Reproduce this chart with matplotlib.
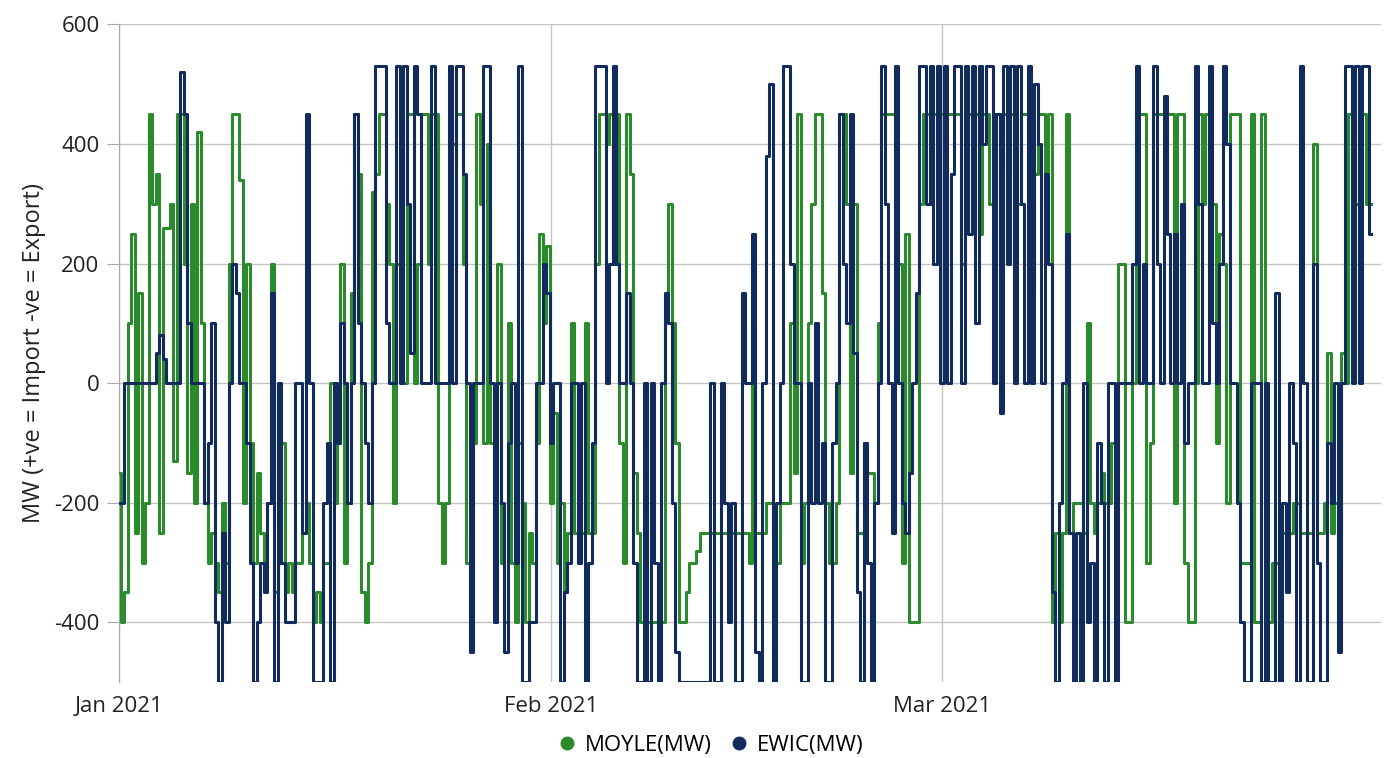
import matplotlib

matplotlib.use("Agg")
import matplotlib.pyplot as plt
import pandas as pd
from matplotlib.lines import Line2D

# interconnector flows, 6-hourly readings, Jan 1 - Mar 31 2021
START = "2021-01-01"
FREQ = "6h"
MONTH_TICKS = ["2021-01-01", "2021-02-01", "2021-03-01"]
MONTH_LABELS = ["Jan 2021", "Feb 2021", "Mar 2021"]

moyle_mw = [
    -150, -400, -350, 100,   250, -250, 150, -300,   -200, 450, 300, 350,   -250, 260, 260, 300,
    -130, 450, 450, 200,   -150, 300, -200, 420,   100, -200, -300, -250,   -300, -350, -200, -300,
    200, 450, 450, 340,   -200, 200, -100, -300,   -150, -250, -300, -200,   200, -350, -300, -100,
    -350, -300, -350, -300,   -300, -250, -200, -300,   -400, -350, -400, -300,   -300, 0, -200, -100,
    200, -300, -200, 150,   450, 350, -350, -400,   -300, 320, 350, 450,   450, 300, 200, -200,
    200, 450, 0, 450,   450, 0, 200, 450,   450, 200, 450, 450,   -200, -300, -200, 450,
    400, 450, 450, 200,   -300, -250, -100, 450,   300, -100, 400, -100,   -350, 200, -300, -400,
    100, -300, -400, -100,   -200, -400, -250, -300,   -100, 250, 100, 230,   -200, -50, -300, -200,
    -350, -250, 100, -250,   -250, -250, 100, -250,   -250, 200, 450, 450,   400, 450, 200, 450,
    -100, -300, 450, 350,   -150, -250, -400, -300,   -400, -400, -400, -400,   -400, 150, 300, 100,
    -100, -400, -400, -350,   -300, -300, -280, -250,   -250, -250, -250, -250,   -250, -250, -250, -250,
    -250, -250, -250, -250,   -250, -300, 100, -250,   -250, -250, -200, -200,   -300, -300, -200, -200,
    -200, 100, -150, 450,   -300, -200, 100, 300,   450, 450, 150, -200,   -300, -300, -200, 450,
    450, 300, -150, 300,   -250, -250, -100, -150,   -150, -200, 100, 450,   450, 450, 450, 300,
    200, -300, 250, -400,   -400, -400, 300, 450,   450, 300, 450, 400,   450, 450, 450, 450,
    450, 450, 200, 450,   450, 400, 450, 250,   450, 450, 300, 450,   450, 180, 450, 350,
    450, 450, 300, 450,   450, 300, 150, 350,   450, 450, 300, 450,   -400, -250, -400, -250,
    450, -250, -200, -200,   -200, -250, 100, -200,   -250, -200, -150, -200,   -200, -100, -150, 200,
    200, -400, -400, 0,   450, 450, 450, -300,   -100, 450, 450, 450,   450, 450, 450, -200,
    450, 450, -300, -400,   -400, 0, 450, 300,   450, 300, 300, -100,   250, 200, -200, 450,
    450, 450, -300, -300,   -300, 450, -400, -400,   450, -300, -400, -300,   -300, -300, -250, -300,
    -250, -200, -200, -250,   -250, -250, -250, 400,   -250, -250, -200, 50,   -250, -200, -300, 50,
    0, 450, 450, 300,   450, 450, 300, 300,
]

ewic_mw = [
    -200, -200, 0, 0,   0, 0, 0, 0,   0, 0, 0, 50,   80, 40, 0, 0,
    0, 0, 520, 450,   100, 0, 0, 0,   0, -200, -100, 100,   -400, -500, -250, -400,
    0, 200, 150, 0,   0, -100, -300, -500,   -400, -300, -350, -200,   150, -500, 0, -300,
    -400, -400, -400, 0,   0, -250, 450, 0,   -500, -500, -500, -200,   -100, -500, 0, -100,
    100, 0, -200, 0,   450, 100, 0, -100,   -200, 0, 530, 530,   530, 100, 0, 0,
    530, 0, 530, 300,   50, 530, 450, 0,   0, 0, 530, 0,   0, 0, 0, 530,
    0, 530, 530, 350,   0, -450, 0, 0,   0, 530, 530, 0,   -400, 0, -200, -450,
    -100, 0, -300, 530,   -500, -500, -400, -400,   0, 0, 200, 150,   -100, 0, 0, -500,
    -350, -300, 0, 0,   -300, 0, -500, -300,   -100, 530, 530, 530,   0, 200, 530, 200,
    0, 0, 150, 0,   -300, -500, -500, 0,   -500, 0, -300, -500,   0, 150, 100, -200,
    -450, -500, -500, -500,   -500, -500, -500, -500,   -500, -500, 0, -500,   -500, 0, -200, -400,
    -200, -500, -500, 150,   0, 0, 250, -450,   -500, 0, 380, 500,   -500, -200, 0, 530,
    530, 200, 0, 0,   -500, -500, 0, -200,   100, -200, -100, -500,   -500, -100, 0, 450,
    200, 100, 450, 50,   -350, -500, -100, -300,   -500, -200, 0, 530,   300, 0, -250, 530,
    0, -200, -250, -150,   0, 150, 530, 530,   300, 530, 200, 530,   0, 530, 0, 350,
    530, 530, 0, 530,   250, 530, 100, 530,   400, 530, 530, 0,   450, -50, 530, 200,
    530, 0, 530, 300,   0, 530, 0, 500,   400, 0, 350, 200,   -350, -500, -200, 0,
    250, -250, -500, -250,   -500, 0, -400, -300,   -500, -100, -200, -500,   0, 0, -500, 0,
    0, 0, 0, 200,   530, 0, 200, 0,   0, 530, 200, 0,   480, 250, 0, 250,
    0, 300, -100, 0,   0, 530, 300, 0,   0, 530, 100, 0,   200, 530, 400, 0,
    0, -200, -400, -500,   -500, 0, 0, 0,   -500, 0, -500, -500,   150, -500, -200, -350,
    0, -100, -500, 530,   0, -500, -500, 200,   -300, -500, -500, -100,   -200, 0, -450, 0,
    530, 530, 0, 530,   0, 530, 530, 250,
]

MOYLE_C, EWIC_C = "#2b8a2b", "#112b5c"
GRID_C = "#c4c4c4"
TEXT_C = "#222222"
FS = 16

plt.rcParams["font.family"] = ["Open Sans", "DejaVu Sans"]
plt.rcParams["axes.unicode_minus"] = False

times = pd.date_range(START, periods=len(moyle_mw), freq=FREQ)
t0 = pd.Timestamp(START)

fig = plt.figure(figsize=(13.97, 7.58), dpi=100)
ax = fig.add_axes([0.0852, 0.100, 0.903, 0.868])

ax.plot(times, moyle_mw, color=MOYLE_C, lw=2.2, drawstyle="steps-mid", zorder=3)
ax.plot(times, ewic_mw, color=EWIC_C, lw=2.2, drawstyle="steps-mid", zorder=4)

ax.set_ylim(-500, 600)
ax.set_xlim(t0, t0 + pd.Timedelta(days=90.43))
ax.set_yticks([-400, -200, 0, 200, 400, 600])
ax.set_xticks(pd.to_datetime(MONTH_TICKS))
ax.set_xticklabels(MONTH_LABELS)

ax.grid(True, color=GRID_C, lw=1, zorder=0)
for side in ("top", "right", "bottom"):
    ax.spines[side].set_visible(False)
ax.spines["left"].set_color("#a8a8a8")
ax.tick_params(axis="y", length=9, color="#a8a8a8", labelsize=FS, pad=5, labelcolor=TEXT_C)
ax.tick_params(axis="x", length=0, labelsize=FS, pad=10, labelcolor=TEXT_C)
ax.set_ylabel("MW (+ve = Import -ve = Export)", fontsize=17, color=TEXT_C, labelpad=6)

handles = [Line2D([], [], marker="o", ls="", color=MOYLE_C, markersize=9, label="MOYLE(MW)"),
           Line2D([], [], marker="o", ls="", color=EWIC_C, markersize=9, label="EWIC(MW)")]
fig.legend(handles=handles, loc="center", bbox_to_anchor=(0.504, 0.017), ncol=2,
           frameon=False, fontsize=FS, handletextpad=-0.2, columnspacing=0.2)

fig.savefig("out.png", dpi=100)
